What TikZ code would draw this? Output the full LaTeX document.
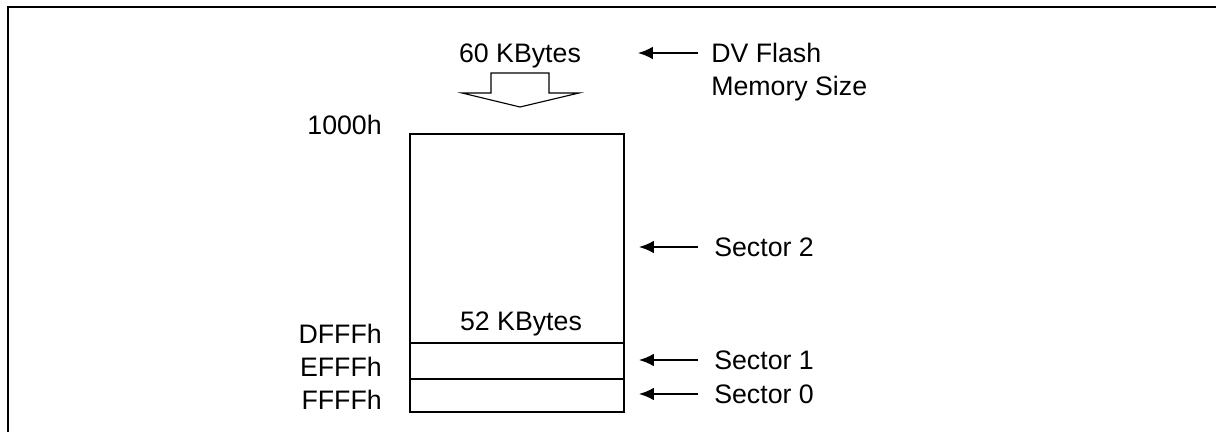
\documentclass[tikz,border=0pt]{standalone}
\usepackage{fontspec}
\setmainfont{Liberation Sans}
\usetikzlibrary{arrows.meta}

\begin{document}
\begin{tikzpicture}[x=0.025cm, y=-0.025cm,
    lbl/.style={inner sep=0pt, text depth=0pt, font=\fontsize{19}{23.5}\selectfont},
    ptr/.style={line width=1.4pt, -{Latex[length=10.5pt,width=9pt]}},
    sector/.style={line width=1.4pt}]
        \useasboundingbox (0,0) rectangle (1216,432);
        \draw [line width=1.6pt] (8,432) -- (8,7) -- (1216,7);

        % memory block
        \coordinate (top) at (410,134);
        \coordinate (d) at (624,343);
        \coordinate (e) at (624,379);
        \coordinate (f) at (624,412);
        \draw [sector] (top) rectangle (f);
        \draw [sector] (410,343) -- (d);
        \draw [sector] (410,379) -- (e);
        \node [lbl] (size52) at (521,321) {52 KBytes};

        \node [lbl, anchor=east] (a1000) at (382,125) {1000h};
        \node [lbl, anchor=east] (aD) at (382,334) {DFFFh};
        \node [lbl, anchor=east] (aE) at (382,367) {EFFFh};
        \node [lbl, anchor=east] (aF) at (382,400) {FFFFh};

        % total size
        \node [lbl] (size60) at (520,53) {60 KBytes};
        \draw [line width=0.8pt] (491,93) -- (491,73) -- (549,73) -- (549,93) -- (579,93) -- (520,107) -- (462,93) -- cycle;

        \node [lbl, anchor=west, align=left] (dv) at (711,69) {DV Flash\\Memory Size};
        \coordinate (dvtip) at (638,53);
        \draw [ptr] (dv.west |- dvtip) ++(-13,0) -- (dvtip);

        \node [lbl, anchor=west] (s2) at (714,247) {Sector 2};
        \node [lbl, anchor=west] (s1) at (714,360) {Sector 1};
        \node [lbl, anchor=west] (s0) at (714,394) {Sector 0};
        \coordinate (s2tip) at (639,247);
        \coordinate (s1tip) at (639,360);
        \coordinate (s0tip) at (639,394);
        \draw [ptr] ([xshift=-0.4cm]s2.west) -- (s2tip);
        \draw [ptr] ([xshift=-0.4cm]s1.west) -- (s1tip);
        \draw [ptr] ([xshift=-0.4cm]s0.west) -- (s0tip);
      \end{tikzpicture}
\end{document}
